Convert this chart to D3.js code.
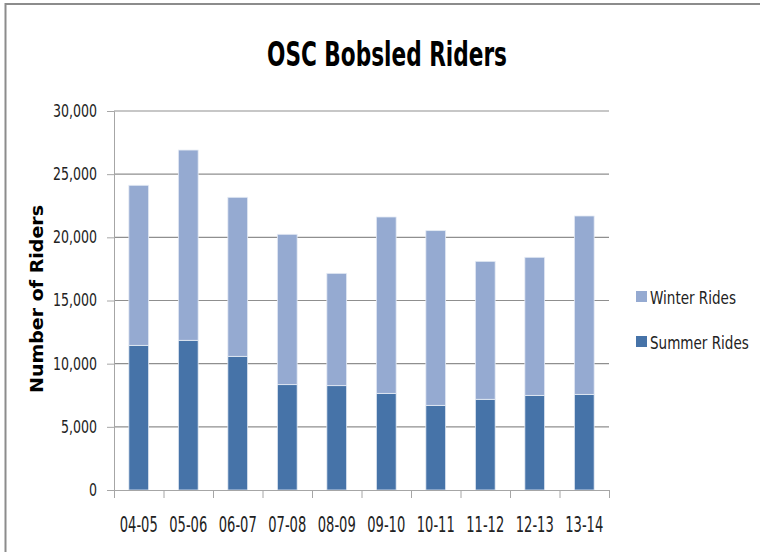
<!DOCTYPE html>
<html>
<head>
<meta charset="utf-8">
<script src="https://cdn.jsdelivr.net/npm/d3@7"></script>
<style>
  body { margin: 0; background: #fff; }
  text { font-family: "Liberation Sans Narrow", "DejaVu Sans Condensed", "Liberation Sans", sans-serif; }
</style>
</head>
<body>
<div id="chart"></div>
<script>
// Seasons and ride counts
const seasons = ["04-05", "05-06", "06-07", "07-08", "08-09", "09-10", "10-11", "11-12", "12-13", "13-14"];
const summerRides = [11450, 11850, 10580, 8340, 8260, 7650, 6700, 7180, 7490, 7570];
const winterRides = [12670, 15060, 12590, 11900, 8890, 13960, 13830, 10920, 10930, 14120];
const seriesNames = ["Summer Rides", "Winter Rides"];
const yTicks = [0, 5000, 10000, 15000, 20000, 25000, 30000];

const colors = {"Summer Rides": "#4673a8", "Winter Rides": "#95aad1"};

const W = 760, H = 552;
const margin = {top: 111, left: 114, right: 151, bottom: 62};
const width = W - margin.left - margin.right;
const height = H - margin.top - margin.bottom;

// squeeze text horizontally so the wide fallback font fits like the narrow original
function squeeze(sel, ratio) {
    sel.each(function() {
        const w = this.getComputedTextLength();
        d3.select(this)
            .attr("textLength", w * ratio)
            .attr("lengthAdjust", "spacingAndGlyphs");
    });
}

const svg = d3.select("#chart").append("svg")
    .attr("width", W)
    .attr("height", H);

// chart frame (only top and left edges show in the picture)
svg.append("path")
    .attr("d", "M5.5," + (H + 10) + "V4H" + (W + 10))
    .attr("fill", "none")
    .attr("stroke", "#8c8c8c")
    .attr("stroke-width", 2);

svg.append("text")
    .attr("x", 387)
    .attr("y", 66)
    .attr("text-anchor", "middle")
    .attr("font-size", 33)
    .attr("font-weight", "bold")
    .attr("textLength", 240)
    .attr("lengthAdjust", "spacingAndGlyphs")
    .text("OSC Bobsled Riders");

const g = svg.append("g")
    .attr("transform", "translate(" + margin.left + "," + margin.top + ")");

const x = d3.scaleBand()
    .domain(seasons)
    .range([0, width])
    .paddingInner(0.6)
    .paddingOuter(0.3);

const y = d3.scaleLinear()
    .domain([0, 30000])
    .range([height, 0]);

// gridlines
g.append("g")
    .selectAll("line")
    .data(yTicks.slice(1))
    .join("line")
    .attr("x1", 0)
    .attr("x2", width)
    .attr("y1", d => y(d))
    .attr("y2", d => y(d))
    .attr("stroke", "#8f8f8f")
    .attr("stroke-width", 1.2);

// y axis
const yAxis = g.append("g")
    .call(d3.axisLeft(y).tickValues(yTicks).tickFormat(d3.format(",")).tickSize(7).tickPadding(10));
yAxis.select(".domain").attr("stroke", "#a6a6a6");
yAxis.selectAll(".tick line").attr("stroke", "#a6a6a6");
const yLabels = yAxis.selectAll("text")
    .attr("font-size", 17)
    .attr("fill", "#222")
    .style("font-family", null);
// "30,000" is about 44px wide in the reference
const yRatio = 44 / yLabels.filter(d => d === 30000).node().getComputedTextLength();
squeeze(yLabels, yRatio);

// stacked bars
const rows = seasons.map((s, i) => ({season: s, "Summer Rides": summerRides[i], "Winter Rides": winterRides[i]}));
const stacked = d3.stack().keys(seriesNames)(rows);

g.append("g")
    .selectAll("g")
    .data(stacked)
    .join("g")
    .attr("fill", d => colors[d.key])
    .selectAll("rect")
    .data(d => d)
    .join("rect")
    .attr("x", d => x(d.data.season))
    .attr("y", d => y(d[1]))
    .attr("width", x.bandwidth())
    .attr("height", d => y(d[0]) - y(d[1]))
    .attr("stroke", "#e6ecf5")
    .attr("stroke-width", 0.8);

// x axis: ticks on category boundaries, labels centred under bars
const xEdges = d3.scaleLinear().domain([0, seasons.length]).range([0, width]);
const xTickAxis = g.append("g")
    .attr("transform", "translate(0," + height + ")")
    .call(d3.axisBottom(xEdges).ticks(seasons.length).tickFormat("").tickSize(8));
xTickAxis.select(".domain").attr("stroke", "#a6a6a6");
xTickAxis.selectAll(".tick line").attr("stroke", "#a6a6a6");

const xLabels = g.append("g")
    .attr("transform", "translate(0," + height + ")")
    .call(d3.axisBottom(x).tickSize(0).tickPadding(27));
xLabels.select(".domain").remove();
const xText = xLabels.selectAll("text")
    .attr("font-size", 20.5)
    .attr("fill", "#222")
    .style("font-family", null);
squeeze(xText, 38 / xText.node().getComputedTextLength());

// y axis title
svg.append("text")
    .attr("transform", "translate(43,299) rotate(-90)")
    .attr("text-anchor", "middle")
    .attr("font-size", 17)
    .attr("font-weight", "bold")
    .attr("textLength", 188)
    .attr("lengthAdjust", "spacingAndGlyphs")
    .style("font-family", "'DejaVu Sans', Verdana, sans-serif")
    .text("Number of Riders");

// legend (winter listed first)
const legend = svg.append("g")
    .selectAll("g")
    .data(["Winter Rides", "Summer Rides"])
    .join("g")
    .attr("transform", (d, i) => "translate(636," + (297 + i * 45) + ")");
legend.append("rect")
    .attr("x", 0)
    .attr("y", -6)
    .attr("width", 11)
    .attr("height", 11)
    .attr("fill", d => colors[d]);
const legendText = legend.append("text")
    .attr("x", 14)
    .attr("y", 7)
    .attr("font-size", 18)
    .attr("fill", "#222")
    .text(d => d);
squeeze(legendText, 86 / legendText.node().getComputedTextLength());
</script>
</body>
</html>
